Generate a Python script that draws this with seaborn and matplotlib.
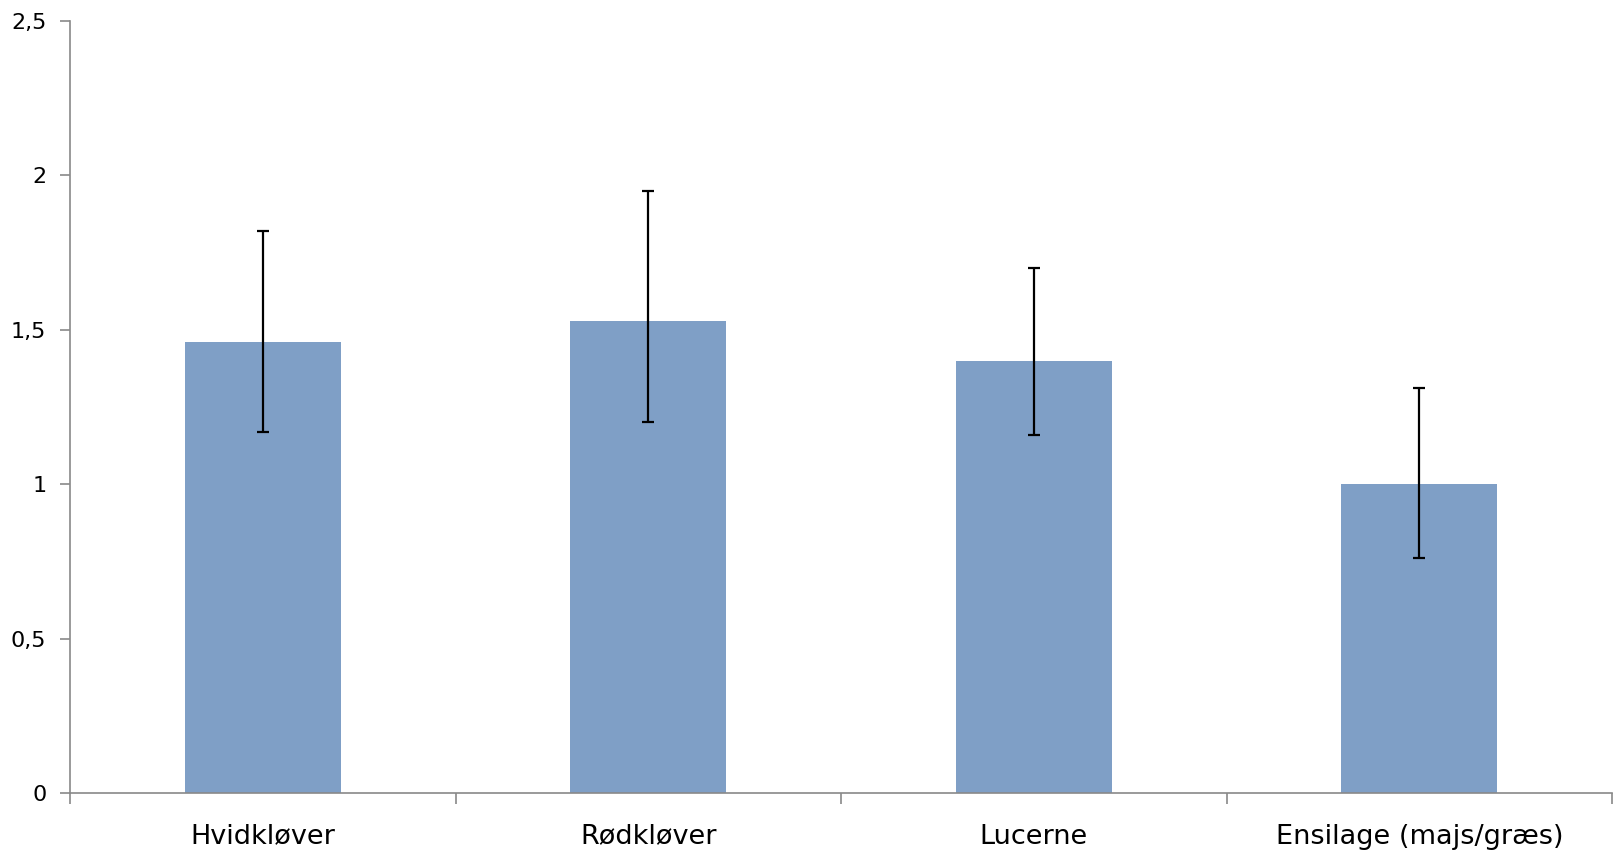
import matplotlib
matplotlib.use("Agg")
import matplotlib.pyplot as plt
import seaborn as sns
import numpy as np
import pandas as pd
from matplotlib.ticker import FixedLocator

categories = ["Hvidkløver", "Rødkløver", "Lucerne", "Ensilage (majs/græs)"]
values = [1.46, 1.53, 1.40, 1.00]
err_low = [1.17, 1.20, 1.16, 0.76]
err_high = [1.82, 1.95, 1.70, 1.31]
yticks = [0, 0.5, 1, 1.5, 2, 2.5]
ytick_labels = ["0", "0,5", "1", "1,5", "2", "2,5"]

sns.set_style("white")
plt.rcParams['font.family'] = ['DejaVu Sans']

df = pd.DataFrame({"cat": categories, "val": values})

fig = plt.figure(figsize=(16.13, 8.52), dpi=100)
ax = fig.add_axes([0.0434, 0.0692, 0.9560, 0.9062])

sns.barplot(data=df, x="cat", y="val", color="#7F9FC6", saturation=1,
            width=0.405, errorbar=None, ax=ax, linewidth=0)

xpos = np.arange(len(categories))
vals = np.array(values)
yerr = np.vstack([vals - np.array(err_low), np.array(err_high) - vals])
ax.errorbar(xpos, vals, yerr=yerr, fmt="none", ecolor="black",
            elinewidth=1.6, capsize=4.5, capthick=1.6, zorder=5)

ax.set_xlim(-0.5, len(categories) - 0.5)
ax.set_ylim(0, 2.5)
ax.set_yticks(yticks)
ax.set_yticklabels(ytick_labels, fontsize=16, color="black")
ax.set_xticks(xpos)
ax.set_xticklabels(categories, fontsize=19.5, color="black")
ax.xaxis.set_minor_locator(FixedLocator(np.arange(-0.5, len(categories), 1.0)))
ax.tick_params(axis="x", which="major", length=0, pad=22)
ax.tick_params(axis="x", which="minor", length=8, width=1.2, color="#898989", bottom=True)
ax.tick_params(axis="y", which="major", length=7, width=1.2, color="#898989", left=True, pad=10)
ax.set_xlabel("")
ax.set_ylabel("")

for s in ["top", "right"]:
    ax.spines[s].set_visible(False)
for s in ["left", "bottom"]:
    ax.spines[s].set_color("#898989")
    ax.spines[s].set_linewidth(1.2)

fig.savefig("out.png", dpi=100)
